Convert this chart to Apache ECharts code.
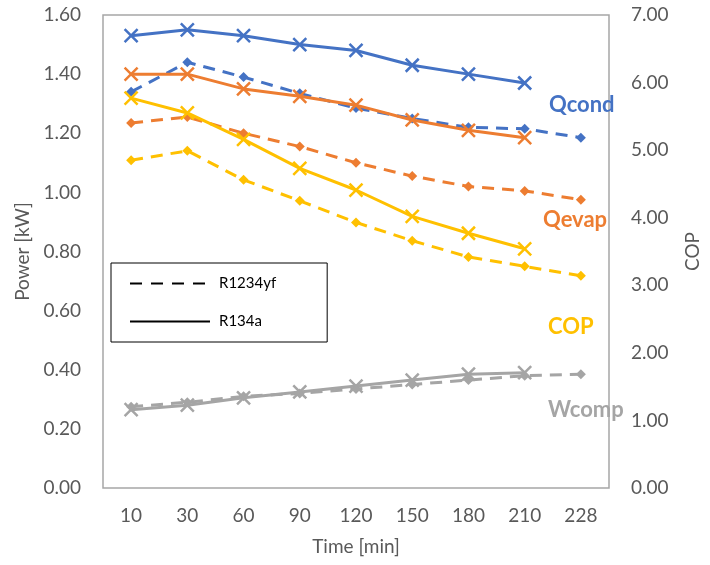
<!DOCTYPE html>
<html>
<head>
<meta charset="utf-8">
<script src="https://cdn.jsdelivr.net/npm/echarts@6/dist/echarts.min.js"></script>
<style>
  html, body { margin: 0; padding: 0; background: #fff; }
  #chart { width: 710px; height: 565px; }
</style>
</head>
<body>
<div id="chart"></div>
<script>
// Time axis categories (minutes)
const times = ['10', '30', '60', '90', '120', '150', '180', '210', '228'];

// Power [kW] — R134a (solid)
const qcondR134a = [1.53, 1.55, 1.53, 1.50, 1.48, 1.43, 1.40, 1.37];
const qevapR134a = [1.40, 1.40, 1.35, 1.325, 1.295, 1.245, 1.21, 1.185];
const wcompR134a = [0.265, 0.28, 0.305, 0.325, 0.345, 0.365, 0.385, 0.39];
// Power [kW] — R1234yf (dashed)
const qcondR1234yf = [1.34, 1.44, 1.39, 1.335, 1.285, 1.25, 1.22, 1.215, 1.185];
const qevapR1234yf = [1.235, 1.255, 1.20, 1.155, 1.10, 1.055, 1.02, 1.005, 0.975];
const wcompR1234yf = [0.275, 0.29, 0.31, 0.32, 0.335, 0.35, 0.365, 0.38, 0.385];

// COP (right axis)
const copR134a = [5.77, 5.55, 5.16, 4.73, 4.41, 4.02, 3.77, 3.54];
const copR1234yf = [4.85, 4.99, 4.56, 4.25, 3.93, 3.66, 3.42, 3.28, 3.14];

const BLUE = '#4472C4', ORANGE = '#ED7D31', YELLOW = '#FFC000', GRAY = '#A5A5A5';
const FONT = 'Lato, "Open Sans", sans-serif';
const CROSS = 'path://M0,0L12,12M12,0L0,12';

function solid(data, color, yAxisIndex) {
  return {
    type: 'line', data, yAxisIndex, z: 3,
    symbol: CROSS, symbolSize: 13,
    itemStyle: { color: color, borderColor: color, borderWidth: 2.5 },
    lineStyle: { color: color, width: 3, type: 'solid' },
    emphasis: { disabled: true }, animation: false
  };
}
function dashed(data, color, yAxisIndex) {
  return {
    type: 'line', data, yAxisIndex, z: 2,
    symbol: 'diamond', symbolSize: 10,
    itemStyle: { color: color },
    lineStyle: { color: color, width: 3, type: [12, 8] },
    emphasis: { disabled: true }, animation: false
  };
}
function legendOnly(name, type) {
  return {
    name, type: 'line', data: [], symbol: 'none',
    itemStyle: { color: '#000' },
    lineStyle: { color: '#000', width: 3.5, type }
  };
}

const axisLabel = { color: '#595959', fontSize: 19, fontFamily: FONT };
const nameStyle = { color: '#595959', fontSize: 19, fontFamily: FONT };
const tag = (text, x, y, color) => ({
  type: 'text', x, y,
  style: { text, fill: color, font: 'bold 22px ' + FONT, verticalAlign: 'middle', align: 'left' }
});

const chart = echarts.init(document.getElementById('chart'), null, { renderer: 'canvas' });
chart.setOption({
  animation: false,
  backgroundColor: '#fff',
  grid: {
    left: 103, right: 92, top: 15, bottom: 77,
    show: true, borderColor: '#a6a6a6', borderWidth: 1.5, backgroundColor: 'transparent'
  },
  legend: {
    orient: 'vertical', left: 111, top: 263,
    data: ['R1234yf', 'R134a'],
    itemWidth: 80, itemHeight: 14, itemGap: 23,
    padding: [13, 51, 13, 18],
    borderColor: '#000', borderWidth: 1,
    itemStyle: { opacity: 0 },
    textStyle: { color: '#000', fontSize: 15, fontFamily: FONT, padding: [0, 0, 4, 4] },
    selectedMode: false
  },
  xAxis: {
    type: 'category', data: times, boundaryGap: true,
    axisLine: { show: false }, axisTick: { show: false },
    axisLabel: Object.assign({ margin: 18 }, axisLabel),
    name: 'Time [min]', nameLocation: 'middle', nameGap: 49, nameTextStyle: nameStyle
  },
  yAxis: [
    {
      type: 'value', min: 0, max: 1.6, interval: 0.2, position: 'left',
      axisLine: { show: false }, axisTick: { show: false }, splitLine: { show: false },
      axisLabel: Object.assign({ margin: 22, formatter: v => v.toFixed(2) }, axisLabel),
      name: 'Power [kW]', nameLocation: 'middle', nameGap: 67, nameRotate: 90, nameTextStyle: nameStyle
    },
    {
      type: 'value', min: 0, max: 7, interval: 1, position: 'right',
      axisLine: { show: false }, axisTick: { show: false }, splitLine: { show: false },
      axisLabel: Object.assign({ margin: 22, formatter: v => v.toFixed(2) }, axisLabel),
      name: 'COP', nameLocation: 'middle', nameGap: 74, nameRotate: 90, nameTextStyle: nameStyle
    }
  ],
  graphic: [
    tag('Qcond', 549, 105, BLUE),
    tag('Qevap', 543, 220, ORANGE),
    tag('COP', 548, 327, YELLOW),
    tag('Wcomp', 548, 410, GRAY)
  ],
  series: [
    legendOnly('R1234yf', [12, 9]),
    legendOnly('R134a', 'solid'),
    dashed(qcondR1234yf, BLUE, 0),
    dashed(qevapR1234yf, ORANGE, 0),
    dashed(copR1234yf, YELLOW, 1),
    dashed(wcompR1234yf, GRAY, 0),
    solid(qcondR134a, BLUE, 0),
    solid(qevapR134a, ORANGE, 0),
    solid(copR134a, YELLOW, 1),
    solid(wcompR134a, GRAY, 0)
  ]
});
</script>
</body>
</html>
